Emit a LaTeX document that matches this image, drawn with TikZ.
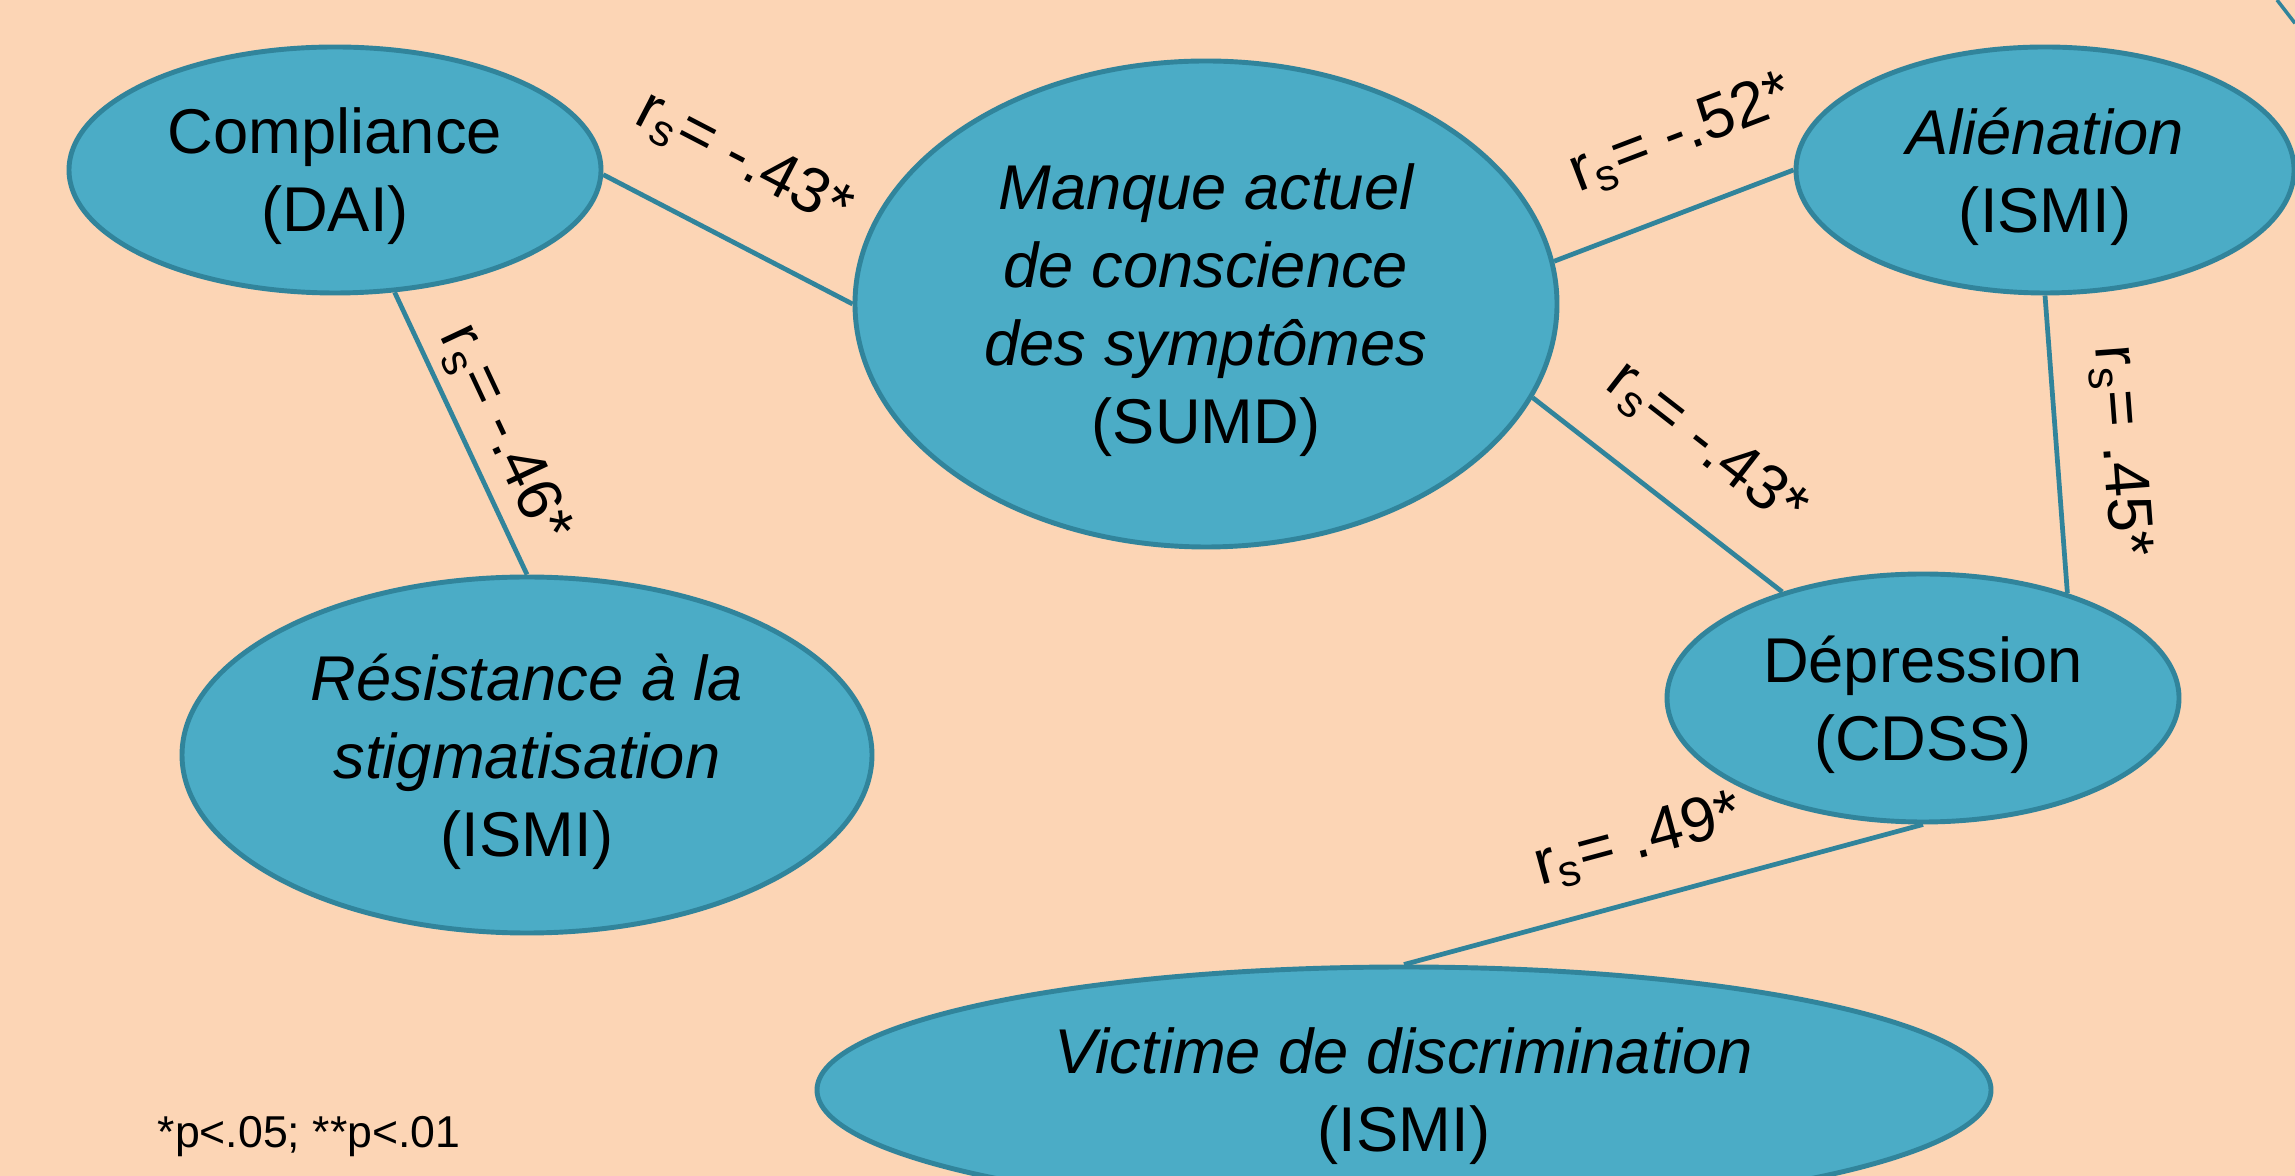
\documentclass[tikz,border=0pt]{standalone}
\usepackage{fontspec}
\setmainfont{Liberation Sans}
\usetikzlibrary{shapes.geometric}
\definecolor{peach}{HTML}{FCD5B5}
\definecolor{aqua}{HTML}{4BACC6}
\definecolor{aquadark}{HTML}{31849B}

\begin{document}
\begin{tikzpicture}[
			main/.style = {draw=aquadark, fill=aqua, ellipse, line width=1.4pt, inner sep=0pt, align=center, text depth=0pt, font=\fontsize{18}{22.2}\selectfont},
			corr/.style = {sloped, inner sep=0pt, font=\fontsize{18}{21.6}\selectfont},
			link/.style = {draw=aquadark, line width=1.35pt}
		]
			\useasboundingbox (0,0) rectangle (22.95,-11.76);
			\clip (0,0) rectangle (22.95,-11.76);
			\fill[peach] (0,0) rectangle (22.95,-11.76);
			\node[main, minimum width=5.32cm, minimum height=2.46cm] (comp) at (3.35,-1.70) {Compliance\\(DAI)};
			\node[main, minimum width=7.02cm, minimum height=4.86cm] (manque) at (12.06,-3.04) {\itshape Manque actuel\\\itshape de conscience\\\itshape des symptômes\\(SUMD)};
			\node[main, minimum width=4.98cm, minimum height=2.46cm] (alien) at (20.45,-1.70) {\itshape Aliénation\\(ISMI)};
			\node[main, minimum width=6.90cm, minimum height=3.56cm] (res) at (5.27,-7.55) {\itshape Résistance à la\\\itshape stigmatisation\\(ISMI)};
			\node[main, minimum width=5.12cm, minimum height=2.48cm] (dep) at (19.23,-6.98) {Dépression\\(CDSS)};
			\node[main, minimum width=11.74cm, minimum height=2.46cm] (vict) at (14.04,-10.90) {\itshape Victime de discrimination\\(ISMI)};
			\node[anchor=base west, inner sep=0pt, font=\fontsize{12.7}{15}\selectfont] (note) at (1.57,-11.47) {*p<.05; **p<.01};
			\draw[link] (comp.-1) to node[corr, above=4.8mm, pos=.42] {r\textsubscript{s}= -.43*} (manque.180);
			\draw[link] (comp.-64) to node[corr, above=1mm, pos=.56] {r\textsubscript{s}= -.46*} (res.90);
			\draw[link] (manque.7) to node[corr, above=4.4mm, pos=.64] {r\textsubscript{s}= -.52*} (alien.180);
			\draw[link] (manque.-16) to node[corr, above=4mm, pos=.525] {r\textsubscript{s}= -.43*} (dep.143);
			\draw[link] (alien.-90) to node[corr, above=3.5mm, pos=.54] {r\textsubscript{s}= .45*} (dep.36);
			\draw[link] (vict.90) to node[corr, above=2.9mm, pos=.48] {r\textsubscript{s}= .49*} (dep.-90);
			\draw[link, line width=1pt] (22.77,0) -- (22.95,-0.233);
		\end{tikzpicture}
\end{document}
